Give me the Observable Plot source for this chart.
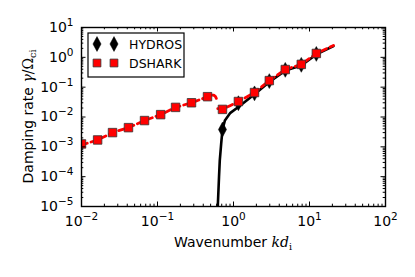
<!DOCTYPE html>
<html><head><meta charset="utf-8">
<script src="https://cdn.jsdelivr.net/npm/d3@7"></script>
<script src="https://cdn.jsdelivr.net/npm/@observablehq/plot@0.6"></script>
<style>
body{margin:0;background:#fff}
svg{display:block}
</style>
</head><body><div id="chart"></div>
<script>
// DSHARK markers
const dsharkK = [0.01, 0.0163, 0.0256, 0.0415, 0.0675, 0.11, 0.173, 0.28, 0.455, 0.716, 1.16, 1.89, 2.96, 4.8, 7.8, 12.3];
const dsharkGamma = [1.25e-3, 1.7e-3, 3.0e-3, 4.4e-3, 7.6e-3, 0.012, 0.021, 0.030, 0.048, 0.018, 0.033, 0.066, 0.166, 0.39, 0.58, 1.35];
// HYDROS markers
const hydrosK = [0.716, 1.16, 1.89, 2.96, 4.8, 7.8, 12.3];
const hydrosGamma = [3.8e-3, 0.029, 0.062, 0.16, 0.38, 0.56, 1.3];
// DSHARK dashed curve, two branches
const dshark1K = [0.01, 0.0163, 0.0256, 0.0415, 0.0675, 0.11, 0.173, 0.28, 0.38, 0.455, 0.51, 0.55, 0.58, 0.60];
const dshark1G = [1.15e-3, 1.7e-3, 3.0e-3, 4.4e-3, 7.6e-3, 0.012, 0.021, 0.030, 0.040, 0.048, 0.054, 0.054, 0.048, 0.040];
const dshark2K = [0.62, 0.716, 0.9, 1.16, 1.89, 2.96, 4.8, 7.8, 12.3, 20.7];
const dshark2G = [0.019, 0.018, 0.024, 0.033, 0.066, 0.166, 0.39, 0.58, 1.35, 2.5];
// HYDROS solid curve
const hydrosLineK = [0.621, 0.645, 0.66, 0.689, 0.716, 0.77, 0.91, 1.17, 1.89, 2.96, 4.8, 7.8, 12.3, 20.7];
const hydrosLineG = [1e-5, 1e-4, 3.5e-4, 1.3e-3, 3.8e-3, 7.6e-3, 0.0138, 0.022, 0.058, 0.15, 0.36, 0.53, 1.25, 2.4];
// ticks
const xMajor = [1e-2, 1e-1, 1, 10, 100];
const yMajor = [1e-5, 1e-4, 1e-3, 1e-2, 1e-1, 1, 10];
const legendLabels = ["HYDROS", "DSHARK"];

const minors = (majors) => {
  const out = [];
  for (let i = 0; i < majors.length - 1; i++) for (let m = 2; m <= 9; m++) out.push(majors[i] * m);
  return out;
};
const xMinor = minors(xMajor), yMinor = minors(yMajor);

const thinDiamond = {
  draw(ctx, size) {
    const s = Math.sqrt(size / Math.PI);
    ctx.moveTo(0, -1.65 * s); ctx.lineTo(0.9 * s, 0); ctx.lineTo(0, 1.65 * s); ctx.lineTo(-0.9 * s, 0); ctx.closePath();
  }
};

const W = 415, H = 277, mL = 81, mR = 30, mT = 27, mB = 71;
const fw = W - mL - mR, fh = H - mT - mB;
const zip = (a, b) => a.map((v, i) => ({k: v, g: b[i]}));

// legend box in frame pixels
const lgL = 6.5, lgT = 5.5, lgW = 96, lgH = 44;

const majLen = 4.5, minLen = 2.3;
const chart = Plot.plot({
  width: W, height: H,
  marginLeft: mL, marginRight: mR, marginTop: mT, marginBottom: mB,
  style: "font-family: 'DejaVu Sans'; font-size: 14px; background: white; color: black;",
  x: {type: "log", domain: [0.01, 100]},
  y: {type: "log", domain: [1e-5, 10]},
  marks: [
    Plot.line(zip(hydrosLineK, hydrosLineG), {x: "k", y: "g", stroke: "black", strokeWidth: 2.6, clip: true}),
    Plot.line(zip(dshark1K, dshark1G), {x: "k", y: "g", stroke: "red", strokeWidth: 2.8, strokeDasharray: "6,4", clip: true}),
    Plot.line(zip(dshark2K, dshark2G), {x: "k", y: "g", stroke: "red", strokeWidth: 2.8, strokeDasharray: "6,4", clip: true}),
    Plot.dot(zip(hydrosK, hydrosGamma), {x: "k", y: "g", symbol: thinDiamond, r: 4.5, fill: "black", stroke: "black", strokeWidth: 0.5, clip: true}),
    Plot.dot(zip(dsharkK, dsharkGamma), {x: "k", y: "g", symbol: "square", r: 4.8, fill: "red", stroke: "#333", strokeWidth: 0.8, clip: true}),
    // ticks inward on all four sides
    Plot.tickX(xMajor, {x: d => d, insetTop: fh - majLen, stroke: "black"}),
    Plot.tickX(xMajor, {x: d => d, insetBottom: fh - majLen, stroke: "black"}),
    Plot.tickX(xMinor, {x: d => d, insetTop: fh - minLen, stroke: "black"}),
    Plot.tickX(xMinor, {x: d => d, insetBottom: fh - minLen, stroke: "black"}),
    Plot.tickY(yMajor, {y: d => d, insetRight: fw - majLen, stroke: "black"}),
    Plot.tickY(yMajor, {y: d => d, insetLeft: fw - majLen, stroke: "black"}),
    Plot.tickY(yMinor, {y: d => d, insetRight: fw - minLen, stroke: "black"}),
    Plot.tickY(yMinor, {y: d => d, insetLeft: fw - minLen, stroke: "black"}),
    Plot.frame({stroke: "black", strokeWidth: 1.4}),
    // legend box
    Plot.frame({fill: "white", stroke: "black", strokeWidth: 1.2,
      insetLeft: lgL, insetTop: lgT, insetRight: fw - lgL - lgW, insetBottom: fh - lgT - lgH}),
    Plot.axisX({ticks: xMajor, tickSize: 0, tickPadding: 10, label: null, tickFormat: d => String(Math.round(Math.log10(d)))}),
    Plot.axisY({ticks: yMajor, tickSize: 0, tickPadding: 8, label: null, tickFormat: d => String(Math.round(Math.log10(d)))})
  ]
});
document.getElementById("chart").appendChild(chart);

const svg = d3.select(chart);
// superscript tick labels
svg.selectAll('g[aria-label="x-axis tick label"] text, g[aria-label="y-axis tick label"] text').each(function() {
  const e = this.textContent.replace("-", "\u2212");
  const t = d3.select(this);
  t.text("10");
  t.append("tspan").attr("dy", "-6").attr("font-size", "10.5px").text(e);
});

// axis titles
const xl = svg.append("text").attr("x", mL + fw / 2).attr("y", 247).attr("text-anchor", "middle")
  .attr("font-family", "DejaVu Sans").attr("font-size", "14px").attr("fill", "black");
xl.append("tspan").text("Wavenumber ");
xl.append("tspan").attr("font-family", "DejaVu Serif").attr("font-style", "italic").text("kd");
xl.append("tspan").attr("font-family", "DejaVu Serif").attr("font-size", "9.5px").attr("dy", "3").text("i");

const yl = svg.append("text").attr("transform", `translate(33,${mT + fh / 2}) rotate(-90)`).attr("text-anchor", "middle")
  .attr("font-family", "DejaVu Sans").attr("font-size", "14px").attr("fill", "black");
yl.append("tspan").text("Damping rate ");
yl.append("tspan").attr("font-family", "DejaVu Serif").attr("font-style", "italic").text("\u03b3");
yl.append("tspan").attr("font-family", "DejaVu Serif").text("/\u03a9");
yl.append("tspan").attr("font-family", "DejaVu Serif").attr("font-size", "9.5px").attr("dy", "3").text("ci");

// legend entries
const lg = svg.append("g").attr("text-anchor", "start");
const diamondPath = d3.symbol(thinDiamond, Math.PI * 4.5 * 4.5)();
const squarePath = d3.symbol(d3.symbolSquare, Math.PI * 4.4 * 4.4)();
[97, 114].forEach(x => {
  lg.append("path").attr("d", diamondPath).attr("transform", `translate(${x},44)`).attr("fill", "black").attr("stroke", "black").attr("stroke-width", 0.5);
  lg.append("path").attr("d", squarePath).attr("transform", `translate(${x},63)`).attr("fill", "red").attr("stroke", "#333").attr("stroke-width", 0.8);
});
legendLabels.forEach((s, i) => {
  lg.append("text").attr("x", 129).attr("y", 44 + i * 19).attr("dy", "0.36em").attr("text-anchor", "start")
    .attr("font-family", "DejaVu Sans").attr("font-size", "12.5px").attr("fill", "black").text(s);
});
</script>
</body></html>
